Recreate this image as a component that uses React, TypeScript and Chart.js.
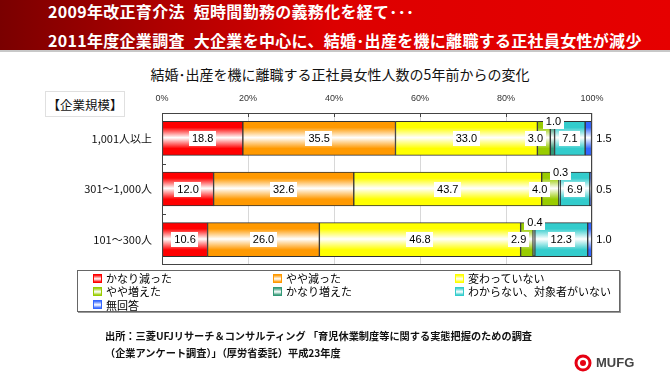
import React, { useEffect, useRef } from "react";
import { Chart, registerables } from "chart.js";

Chart.register(...registerables);

const categories = ["1,001人以上", "301～1,000人", "101～300人"];
const seriesNames = [
  "かなり減った",
  "やや減った",
  "変わっていない",
  "やや増えた",
  "かなり増えた",
  "わからない、対象者がいない",
  "無回答",
];
const kanariHetta = [18.8, 12.0, 10.6];
const yayaHetta = [35.5, 32.6, 26.0];
const kawatteinai = [33.0, 43.7, 46.8];
const yayaFueta = [3.0, 4.0, 2.9];
const kanariFueta = [1.0, 0.3, 0.4];
const wakaranai = [7.1, 6.9, 12.3];
const mukaitou = [1.5, 0.5, 1.0];
const xTickLabels = ["0%", "20%", "40%", "60%", "80%", "100%"];

const seriesValues = [kanariHetta, yayaHetta, kawatteinai, yayaFueta, kanariFueta, wakaranai, mukaitou];
const seriesColors = ["#ff0000", "#ff9900", "#ffff00", "#99cc00", "#339977", "#33cccc", "#3366ff"];

const JP = '"Noto Sans CJK JP", "Noto Sans", sans-serif';
const LAT = '"Liberation Sans", Arial, sans-serif';
const BAR = 34;

function gradientFor(color: string) {
  return (c: any) => {
    const chart = c.chart;
    const ys = chart.scales && chart.scales.y;
    if (c.type !== "data" || !ys || !chart.chartArea) return color;
    const y = ys.getPixelForValue(c.dataIndex);
    const g = chart.ctx.createLinearGradient(0, y - BAR / 2, 0, y + BAR / 2);
    g.addColorStop(0, color);
    g.addColorStop(0.18, color);
    g.addColorStop(0.48, "#ffffff");
    g.addColorStop(0.8, color);
    g.addColorStop(1, color);
    return g;
  };
}

const decorPlugin = {
  id: "decor",
  afterDatasetsDraw(chart: any) {
    const { ctx, chartArea: a, scales } = chart;
    const xs = scales.x;
    const ys = scales.y;
    ctx.save();
    ctx.strokeStyle = "#444";
    ctx.lineWidth = 1;
    ctx.strokeRect(Math.round(a.left) + 0.5, Math.round(a.top) + 0.5, Math.round(a.width) - 1, Math.round(a.height) - 1);
    ctx.beginPath();
    for (let v = 20; v < 100; v += 20) {
      const px = Math.round(xs.getPixelForValue(v)) + 0.5;
      ctx.moveTo(px, a.top);
      ctx.lineTo(px, a.top + 4);
    }
    for (let i = 0; i < categories.length - 1; i++) {
      const py = Math.round((ys.getPixelForValue(i) + ys.getPixelForValue(i + 1)) / 2) + 0.5;
      ctx.moveTo(a.left, py);
      ctx.lineTo(a.left + 4, py);
    }
    ctx.stroke();

    ctx.font = `11px ${LAT}`;
    ctx.textAlign = "center";
    ctx.textBaseline = "middle";
    chart.data.datasets.forEach((ds: any, di: number) => {
      const meta = chart.getDatasetMeta(di);
      meta.data.forEach((el: any, j: number) => {
        const v = ds.data[j];
        const txt = v.toFixed(1);
        const start = Math.min(el.base, el.x);
        const end = Math.max(el.base, el.x);
        let cx = (start + end) / 2;
        let cy = el.y;
        let box = true;
        if (di === 3) cx = start - 2;
        else if (di === 4) {
          cx = (start + end) / 2 + 1;
          cy = el.y - BAR / 2;
        } else if (di === 6) {
          cx = a.right + 12;
          box = false;
        }
        const w = ctx.measureText(txt).width;
        if (box) {
          ctx.fillStyle = "#fff";
          ctx.fillRect(Math.round(cx - w / 2 - 3), Math.round(cy - 7.5), Math.round(w + 6), 15);
        }
        ctx.fillStyle = "#000";
        ctx.fillText(txt, cx, cy + 0.5);
      });
    });
    ctx.restore();
  },
};

function BarChart() {
  const ref = useRef<HTMLCanvasElement | null>(null);
  useEffect(() => {
    if (!ref.current) return;
    const chart = new Chart(ref.current, {
      type: "bar",
      data: {
        labels: categories,
        datasets: seriesValues.map((d, i) => ({
          label: seriesNames[i],
          data: d,
          backgroundColor: gradientFor(seriesColors[i]),
          borderColor: "#333",
          borderWidth: 1,
          borderSkipped: false,
          barThickness: BAR,
        })),
      },
      options: {
        indexAxis: "y",
        animation: false,
        responsive: false,
        maintainAspectRatio: false,
        events: [],
        layout: { padding: { left: 0, top: 90, right: 78, bottom: 112 } },
        plugins: { legend: { display: false }, tooltip: { enabled: false } },
        scales: {
          x: {
            position: "top",
            stacked: true,
            min: 0,
            max: 100,
            ticks: {
              stepSize: 20,
              callback: (v: any) => xTickLabels[Math.round(Number(v) / 20)],
              font: { size: 9, family: LAT },
              color: "#333",
              padding: 9,
            },
            grid: { color: "#d8d8d8", drawTicks: false },
            border: { display: false },
            afterFit: (s: any) => {
              s.height = 23;
            },
          },
          y: {
            stacked: true,
            ticks: { font: { size: 11, family: JP }, color: "#111", padding: 10 },
            grid: { display: false, drawTicks: false },
            border: { display: false },
            afterFit: (s: any) => {
              s.width = 162;
            },
          },
        },
      } as any,
      plugins: [decorPlugin],
    });
    return () => chart.destroy();
  }, []);
  return (
    <canvas
      ref={ref}
      width={670}
      height={377}
      style={{ position: "absolute", left: 0, top: 0, width: 670, height: 377 }}
    />
  );
}

export default function App() {
  const legendCols = [93, 273, 455];
  const legendRows = [278, 291, 304.5];
  return (
    <div
      style={{
        position: "fixed",
        left: 0,
        top: 0,
        width: 670,
        height: 377,
        background: "#fff",
        overflow: "hidden",
        fontFamily: JP,
      }}
    >
      <div
        style={{
          position: "absolute",
          left: 0,
          top: 0,
          width: 670,
          height: 50,
          background: "linear-gradient(to right, #7a0000 0%, #b00000 25%, #dd0000 50%, #e60000 100%)",
          borderBottom: "2px solid #c8c8c8",
        }}
      >
        <div
          style={{
            position: "absolute",
            left: 48,
            top: 1,
            color: "#fff",
            fontWeight: "bold",
            fontSize: 16,
            lineHeight: "20px",
            letterSpacing: 0.3,
            whiteSpace: "pre",
          }}
        >
          2009年改正育介法<span style={{ marginLeft: 9 }} />短時間勤務の義務化を経て･･･
        </div>
        <div
          style={{
            position: "absolute",
            left: 48,
            top: 30,
            color: "#fff",
            fontWeight: "bold",
            fontSize: 16,
            lineHeight: "20px",
            letterSpacing: 0.3,
            whiteSpace: "pre",
          }}
        >
          2011年度企業調査<span style={{ marginLeft: 9 }} />大企業を中心に、結婚･出産を機に離職する正社員女性が減少
        </div>
      </div>

      <div
        style={{
          position: "absolute",
          left: 0,
          width: 680,
          top: 64,
          textAlign: "center",
          fontSize: 14,
          lineHeight: "20px",
          color: "#111",
        }}
      >
        結婚･出産を機に離職する正社員女性人数の5年前からの変化
      </div>

      <div
        style={{
          position: "absolute",
          left: 45,
          top: 91,
          width: 80,
          height: 26,
          border: "1px solid #e0e0e0",
          boxSizing: "border-box",
          display: "flex",
          alignItems: "center",
          justifyContent: "center",
          fontSize: 12.5,
          color: "#111",
        }}
      >
        【企業規模】
      </div>

      <BarChart />

      <div
        style={{
          position: "absolute",
          left: 77,
          top: 270,
          width: 543,
          height: 42,
          border: "1px solid #666",
          boxSizing: "border-box",
          boxShadow: "1px 1px 0 #999",
        }}
      />
      {seriesNames.map((name, i) => (
        <div
          key={name}
          style={{
            position: "absolute",
            left: legendCols[i % 3],
            top: legendRows[Math.floor(i / 3)] - 8,
            height: 16,
            display: "flex",
            alignItems: "center",
            fontSize: 11,
            color: "#000",
            whiteSpace: "nowrap",
          }}
        >
          <span
            style={{
              display: "inline-block",
              width: 7,
              height: 7,
              border: `1.5px solid ${seriesColors[i]}`,
              background: `linear-gradient(${seriesColors[i]}, #ffffff 55%, ${seriesColors[i]})`,
              marginRight: 4,
            }}
          />
          {name}
        </div>
      ))}

      <div
        style={{
          position: "absolute",
          left: 105,
          top: 327,
          fontSize: 10.2,
          fontWeight: "bold",
          lineHeight: "17px",
          color: "#111",
          whiteSpace: "pre",
        }}
      >
        {"出所：三菱UFJリサーチ＆コンサルティング 「育児休業制度等に関する実態把握のための調査\n（企業アンケート調査）」（厚労省委託）平成23年度"}
      </div>

      <svg
        style={{ position: "absolute", left: 574, top: 354 }}
        width={18}
        height={18}
        viewBox="0 0 18 18"
      >
        <circle cx={9} cy={9} r={7} fill="none" stroke="#e60012" strokeWidth={3} />
        <circle cx={9} cy={9} r={3} fill="#e60012" />
      </svg>
      <div
        style={{
          position: "absolute",
          left: 596,
          top: 355,
          fontFamily: LAT,
          fontSize: 13,
          fontWeight: "bold",
          color: "#444",
          lineHeight: "16px",
        }}
      >
        MUFG
      </div>
    </div>
  );
}
